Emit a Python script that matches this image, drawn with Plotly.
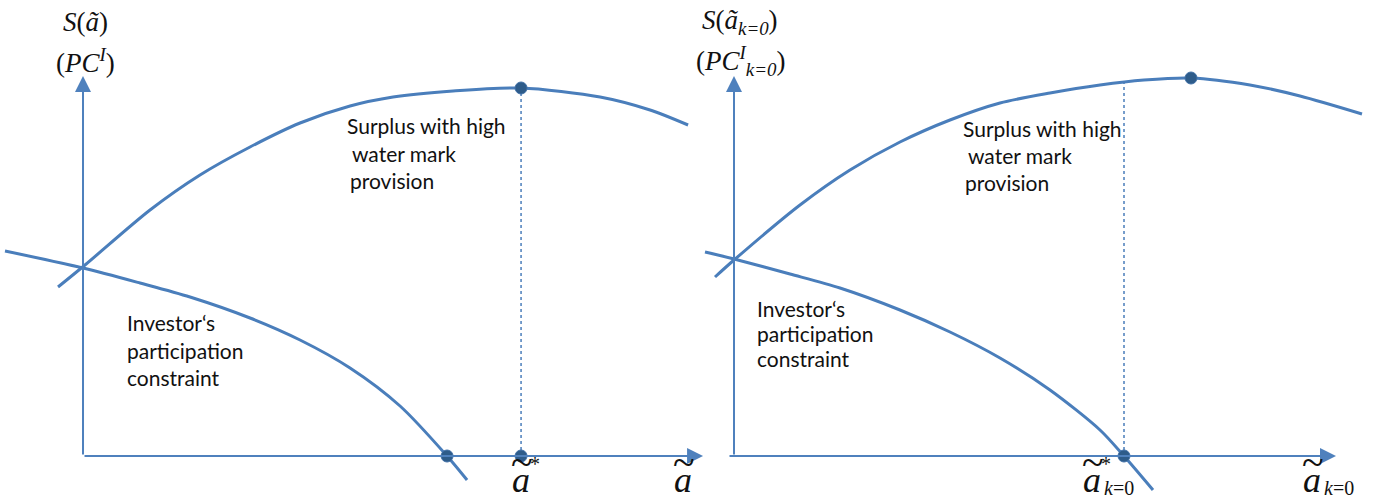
import plotly.graph_objects as go

# ---- curve samples (panel units: x from the vertical axis, y up from the horizontal axis)
left_surplus_x = [-25, 2, 67, 117, 167, 217, 267, 310, 370, 438, 517, 567, 605]
left_surplus_y = [169, 191, 246, 281, 309, 333, 350, 359, 365, 368, 359, 346, 331]
left_pc_x = [-78, 0, 57, 107, 167, 217, 267, 317, 364, 384]
left_pc_y = [205, 188, 173, 159, 138, 116, 88, 50, 0, -24]
left_opt_x = 438          # position of the surplus maximum
left_opt_y = 368
left_pc_zero_x = 364      # participation constraint hits zero

right_surplus_x = [-19, 0, 66, 116, 166, 216, 266, 316, 366, 410, 457, 516, 566, 628]
right_surplus_y = [179, 196, 251, 286, 314, 336, 353, 363, 371, 376, 378, 371, 360, 342]
right_pc_x = [-29, 0, 56, 106, 166, 216, 266, 316, 366, 390, 419]
right_pc_y = [204, 197, 182, 168, 146, 124, 98, 66, 26, 0, -34]
right_max_x = 457
right_max_y = 378
right_opt_x = 390         # constrained optimum where PC reaches zero
right_opt_top = 375

axis_len_x = 620
axis_len_y = 380

LINE = "#4A7EBB"
AXIS = "#4F81BD"
DOT = "#2E5C8A"
TEXT_FONT = dict(family="Lato", size=21, color="#111111")
MATH_FONT = dict(family="Liberation Serif", size=27, color="#111111")

fig = go.Figure()


def panel(xref, sx, sy, px, py):
    fig.add_trace(go.Scatter(x=sx, y=sy, mode="lines", line=dict(color=LINE, width=3, shape="spline", smoothing=0.8),
                             xaxis=xref, yaxis="y", hoverinfo="skip"))
    fig.add_trace(go.Scatter(x=px, y=py, mode="lines", line=dict(color=LINE, width=3, shape="spline", smoothing=0.8),
                             xaxis=xref, yaxis="y", hoverinfo="skip"))


panel("x", left_surplus_x, left_surplus_y, left_pc_x, left_pc_y)
panel("x2", right_surplus_x, right_surplus_y, right_pc_x, right_pc_y)

# dotted guides
fig.add_trace(go.Scatter(x=[left_opt_x, left_opt_x], y=[0, left_opt_y], mode="lines",
                         line=dict(color=LINE, width=1.5, dash="dot"), xaxis="x", yaxis="y", hoverinfo="skip"))
fig.add_trace(go.Scatter(x=[right_opt_x, right_opt_x], y=[0, right_opt_top], mode="lines",
                         line=dict(color=LINE, width=1.5, dash="dot"), xaxis="x2", yaxis="y", hoverinfo="skip"))

# marked points
dot_style = dict(color=DOT, size=12, line=dict(color="#3F6FA6", width=1))
fig.add_trace(go.Scatter(x=[left_opt_x, left_opt_x, left_pc_zero_x], y=[left_opt_y, 0, 0], mode="markers",
                         marker=dot_style, xaxis="x", yaxis="y", hoverinfo="skip", cliponaxis=False))
fig.add_trace(go.Scatter(x=[right_max_x, right_opt_x], y=[right_max_y, 0], mode="markers",
                         marker=dot_style, xaxis="x2", yaxis="y", hoverinfo="skip", cliponaxis=False))

ann = []


def arrow(xref, x0, y0, x1, y1):
    ann.append(dict(xref=xref, yref="y", axref=xref, ayref="y", x=x1, y=y1, ax=x0, ay=y0,
                    text="", showarrow=True, arrowhead=2, arrowsize=1.6, arrowwidth=2,
                    arrowcolor=AXIS, standoff=0, startstandoff=0))


arrow("x", 0, 0, 0, axis_len_y)
arrow("x", 0, 0, axis_len_x, 0)
arrow("x2", 0, 0, 0, axis_len_y)
arrow("x2", -6, 0, 602, 0)


def label(xref, x, y, text, font=TEXT_FONT, xanchor="left", yanchor="middle"):
    ann.append(dict(xref=xref, yref="y", x=x, y=y, text=text, showarrow=False,
                    xanchor=xanchor, yanchor=yanchor, font=font))


# curve descriptions
label("x", 262, 331, "Surplus with high")
label("x", 267, 303, "water mark")
label("x", 265, 276, "provision")
label("x", 42, 134, "Investor‘s")
label("x", 42, 106, "participation")
label("x", 42, 79, "constraint")

label("x2", 227, 328, "Surplus with high")
label("x2", 232, 301, "water mark")
label("x2", 229, 274, "provision")
label("x2", 21, 148, "Investor‘s")
label("x2", 21, 123, "participation")
label("x2", 21, 98, "constraint")

# vertical axis titles
label("x", 2, 434, "<i>S</i>(<i>ã</i>)", MATH_FONT, "center")
label("x", 2, 395, "(<i>PC<sup>I</sup></i>)", MATH_FONT, "center")
label("x2", 6, 434, "<i>S</i>(<i>ã<sub>k=0</sub></i>)", MATH_FONT, "center")
label("x2", 6, 395, "(<i>PC<sup>I</sup><sub>k=0</sub></i>)", MATH_FONT, "center")

# horizontal axis symbols: italic a with a wide tilde above
BIG = dict(family="Liberation Serif", size=36, color="#111111")
TILDE = dict(family="Liberation Serif", size=40, color="#111111")
SUB = dict(family="Liberation Serif", size=20, color="#111111")


def atilde(xref, x, star=False, sub=False):
    label(xref, x, -24, "<i>a</i>", BIG, "center")
    label(xref, x + 1, -6, "~", TILDE, "center")
    if star:
        label(xref, x + 14, -8, "*", SUB, "center")
    if sub:
        label(xref, x + 10, -32, "<i>k</i>=0", SUB, "left")


atilde("x", left_opt_x, star=True)
atilde("x", 600)
atilde("x2", right_opt_x - 32, star=True, sub=True)
atilde("x2", 578, sub=True)

hidden = dict(visible=False, showgrid=False, zeroline=False, fixedrange=True)
fig.update_layout(
    width=1379, height=501,
    margin=dict(l=0, r=0, t=0, b=0),
    paper_bgcolor="white", plot_bgcolor="white",
    showlegend=False,
    xaxis=dict(domain=[0, 0.52], range=[-83, 634], **hidden),
    xaxis2=dict(domain=[0.5, 1], range=[-44.5, 645], anchor="y", **hidden),
    yaxis=dict(domain=[0, 1], range=[-45, 456], **hidden),
    annotations=ann,
)

fig.write_html("out.html")
